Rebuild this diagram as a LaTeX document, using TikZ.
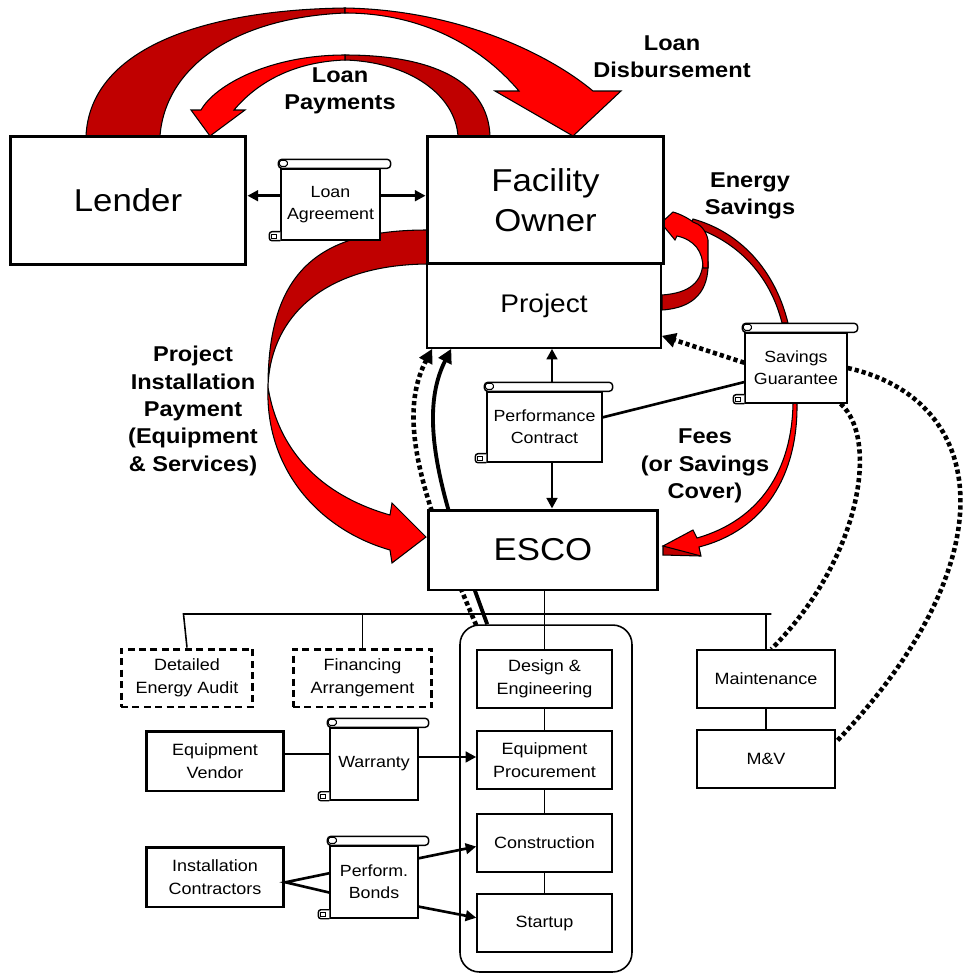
\documentclass[tikz,border=0pt]{standalone}
\usepackage{fontspec}
\setmainfont[FakeStretch=1.1]{Liberation Sans}
\usepackage{xcolor}
\usetikzlibrary{arrows.meta}
\usetikzlibrary{calc,backgrounds}

\definecolor{ribbondark}{RGB}{192,0,0}
\definecolor{ribbonred}{RGB}{255,0,0}

\tikzset{
  bigbox/.style={draw, line width=1.7pt, fill=white, align=center, inner sep=0pt, font=\fontsize{18}{23}\selectfont},
  projbox/.style={draw, line width=0.9pt, fill=white, align=center, inner sep=0pt, font=\fontsize{14.5}{18}\selectfont},
  taskbox/.style={draw, line width=0.9pt, fill=white, align=center, inner sep=0pt, minimum height=1.16cm, font=\fontsize{9.3}{12.9}\selectfont},
  partybox/.style={taskbox, line width=1.7pt, minimum height=1.2cm},
  optbox/.style={taskbox, line width=1.7pt, dash pattern=on 4pt off 2.5pt},
  scrollbody/.style={draw, line width=0.8pt, fill=white, align=center, inner sep=0pt, font=\fontsize{9.2}{12.3}\selectfont},
  flowlbl/.style={align=center, font=\bfseries\fontsize{12.2}{15.6}\selectfont},
  backribbon/.style={fill=ribbondark, draw=black, line width=0.6pt},
  frontribbon/.style={fill=ribbonred, draw=black, line width=0.6pt},
  conn/.style={line width=1.5pt, -{Triangle[length=6pt,width=6pt]}},
  guarline/.style={line width=2.6pt, dash pattern=on 2.4pt off 1.7pt}
}

\newcommand{\scrollroll}[1]{%
  \draw[line width=0.8pt, fill=white, rounded corners=2pt]
    ($(#1.north west)+(-2,0)$) rectangle ($(#1.north east)+(10,-9)$);
  \draw[line width=0.6pt, fill=white, rounded corners=1pt]
    ($(#1.north west)+(-1,-2)$) rectangle ($(#1.north west)+(7,-8)$);
  \draw[line width=0.8pt, fill=white, rounded corners=1.5pt]
    ($(#1.south west)+(0,-9)$) -- ++(-11,0) -- ++(0,9) -- ++(11,0);
  \draw[line width=0.5pt] ($(#1.south west)+(-4,-6)$) rectangle ++(-5,4);
}

\begin{document}
\begin{tikzpicture}[x=0.02cm, y=-0.02cm]
\useasboundingbox (0,0) rectangle (964,974);

\draw[backribbon] (86,136) .. controls (90,50) and (200,10) .. (345,8) -- (345,13) .. controls (230,18) and (165,70) .. (160,136) -- cycle;
\draw[frontribbon] (345,8) .. controls (460,10) and (550,55) .. (593,91) -- (621,91) -- (573,136) -- (495,91) -- (519,91) .. controls (480,45) and (420,13) .. (345,13) -- cycle;

\draw[backribbon] (490,136) .. controls (488,80) and (430,55) .. (345,55) -- (345,60) .. controls (410,62) and (455,95) .. (458,136) -- cycle;
\draw[frontribbon] (345,55) .. controls (270,55) and (215,85) .. (201,110) -- (191,110) -- (210,136) -- (245,110) -- (234,110) .. controls (255,85) and (290,62) .. (345,60) -- cycle;

\draw[backribbon] (427,230) .. controls (320,230) and (268,270) .. (268,387) .. controls (270,320) and (320,265) .. (427,264) -- cycle;
\draw[frontribbon] (268,387) .. controls (265,470) and (320,530) .. (390,550) -- (392,563) -- (426,537) -- (392,503) -- (390,515) .. controls (320,495) and (278,450) .. (268,387) -- cycle;

\draw[backribbon] (693,219) .. controls (740,232) and (775,270) .. (788,323) -- (782,323) .. controls (770,275) and (737,240) .. (690,226) -- cycle;
\draw[backribbon] (703,262) .. controls (702,282) and (690,293) .. (662,295) -- (662,310) .. controls (695,308) and (709,290) .. (708,262) -- cycle;
\draw[frontribbon] (673,212) -- (661,223) -- (675,240) -- (677,236) .. controls (695,240) and (703,252) .. (703,268) -- (708,268) -- (708,240) .. controls (706,230) and (700,224) .. (693,222) .. controls (688,218) and (680,214) .. (673,212) -- cycle;

\draw[backribbon] (663,546) -- (699,551) -- (700,556) -- (663,555) -- cycle;
\draw[frontribbon] (793,403) .. controls (792,470) and (760,520) .. (697,538) -- (693,530) -- (663,546) -- (701,556) -- (699,547) .. controls (765,530) and (798,475) .. (797,403) -- cycle;

\node[projbox, minimum width=4.68cm, minimum height=1.68cm] (project) at (544,306) {Project};
\node[bigbox, minimum width=4.74cm, minimum height=2.56cm] (owner) at (545.5,200) {Facility\\Owner};
\node[bigbox, minimum width=4.72cm, minimum height=2.58cm] (lender) at (128,200.5) {Lender};
\node[bigbox, minimum width=4.6cm, minimum height=1.6cm] (esco) at (543,550) {ESCO};

\node[scrollbody, minimum width=1.98cm, minimum height=1.42cm] (loanag) at (330.5,204.5) {Loan\\Agreement};
\node[scrollbody, minimum width=2.3cm, minimum height=1.4cm] (perfc) at (544.5,427) {Performance\\Contract};
\node[scrollbody, minimum width=2.04cm, minimum height=1.4cm] (savg) at (796,368) {Savings\\Guarantee};
\node[scrollbody, minimum width=1.76cm, minimum height=1.44cm] (warr) at (374,764) {Warranty};
\node[scrollbody, minimum width=1.76cm, minimum height=1.44cm] (bonds) at (374,882) {Perform.\\Bonds};
\scrollroll{loanag}
\scrollroll{perfc}
\scrollroll{savg}
\scrollroll{warr}
\scrollroll{bonds}

\node[draw, line width=0.9pt, rounded corners=11pt, minimum width=3.44cm, minimum height=6.94cm] (phase) at (546,798.5) {};
\node[optbox, minimum width=2.64cm] (audit) at (187,678) {Detailed\\Energy Audit};
\node[optbox, minimum width=2.78cm] (finance) at (362.5,678) {Financing\\Arrangement};
\node[taskbox, minimum width=2.7cm] (design) at (544.5,679) {Design \&\\Engineering};
\node[taskbox, minimum width=2.7cm] (procure) at (544.5,760) {Equipment\\Procurement};
\node[taskbox, minimum width=2.7cm] (construct) at (544.5,843) {Construction};
\node[taskbox, minimum width=2.7cm] (startup) at (544.5,923) {Startup};
\node[taskbox, minimum width=2.76cm] (maint) at (766,679) {Maintenance};
\node[taskbox, minimum width=2.76cm] (mv) at (766,759) {M\&V};
\node[partybox, minimum width=2.76cm] (vendor) at (215,761) {Equipment\\Vendor};
\node[partybox, minimum width=2.76cm] (contractors) at (215,877) {Installation\\Contractors};

\node[flowlbl] (paylbl) at (340,91) {Loan\\Payments};
\node[flowlbl] (disblbl) at (672,57) {Loan\\Disbursement};
\node[flowlbl] (savlbl) at (750,196) {Energy\\Savings};
\node[flowlbl] (instlbl) at (193,411) {Project\\Installation\\Payment\\(Equipment\\\& Services)};
\node[flowlbl] (feelbl) at (705,466) {Fees\\(or Savings\\Cover)};

\begin{scope}[on background layer]
\draw[guarline, -{Triangle[length=8pt,width=8pt]}] ($(phase.north west)+(17,1)$) .. controls (425,505) and (395,420) .. ($(project.south west)+(6,0)$);
\draw[line width=2.2pt, -{Triangle[length=8pt,width=8pt]}] ($(phase.north west)+(28,0)$) .. controls (445,510) and (415,420) .. ($(project.south west)+(25,0)$);
\end{scope}

\draw[conn] ([yshift=5pt]loanag.west) -- ([yshift=5pt]loanag.west -| lender.east);
\draw[conn] ([yshift=5pt]loanag.east) -- ([yshift=5pt]loanag.east -| owner.west);

\coordinate (pcup) at ($(perfc.north)+(7.5,-9)$);
\coordinate (pcdown) at ($(perfc.south)+(7.5,0)$);
\draw[conn] (pcup) -- (pcup |- project.south);
\draw[conn] (pcdown) -- (pcdown |- esco.north);
\draw[line width=1.5pt] ([yshift=5.5pt]perfc.east) -- ([yshift=-8pt]savg.west);
\draw[guarline, -{Triangle[length=8pt,width=8pt]}] ([yshift=3pt]savg.west) -- ([yshift=-17pt]project.east);
\draw[guarline] (savg.east) .. controls (990,400) and (1010,560) .. ([yshift=9.5pt]mv.east);
\draw[guarline] ([xshift=-4pt]savg.south east) .. controls (880,440) and (860,560) .. ([xshift=3pt]maint.north);

\coordinate (bus) at (0,614);
\draw[line width=0.9pt] (audit.north) -- ([xshift=-2pt]audit.north |- bus) -- ([xshift=3pt]maint.north |- bus);
\draw[line width=0.9pt] (finance.north) -- (finance.north |- bus);
\draw[line width=0.9pt] (maint.north) -- (maint.north |- bus);
\draw[line width=0.9pt] (design.north |- esco.south) -- (design.north);
\draw[line width=0.9pt] (design) -- (procure);
\draw[line width=0.9pt] (procure) -- (construct);
\draw[line width=0.9pt] (construct) -- (startup);
\draw[line width=0.9pt] (maint) -- (mv);

\draw[line width=1.5pt] ([yshift=4pt]vendor.east) -- ([yshift=4pt]vendor.east -| warr.west);
\draw[conn] ([yshift=4pt]warr.east) -- ([yshift=4pt]warr.east -| procure.west);
\coordinate (icout) at ([yshift=-3pt]contractors.east);
\draw[line width=1.5pt] ([yshift=5pt]bonds.west) -- (icout) -- ([yshift=-6pt]bonds.west);
\draw[conn] ([yshift=13.5pt]bonds.east) -- ([yshift=-2pt]construct.west);
\draw[conn] ([yshift=-14pt]bonds.east) -- ([yshift=3pt]startup.west);
\end{tikzpicture}
\end{document}
